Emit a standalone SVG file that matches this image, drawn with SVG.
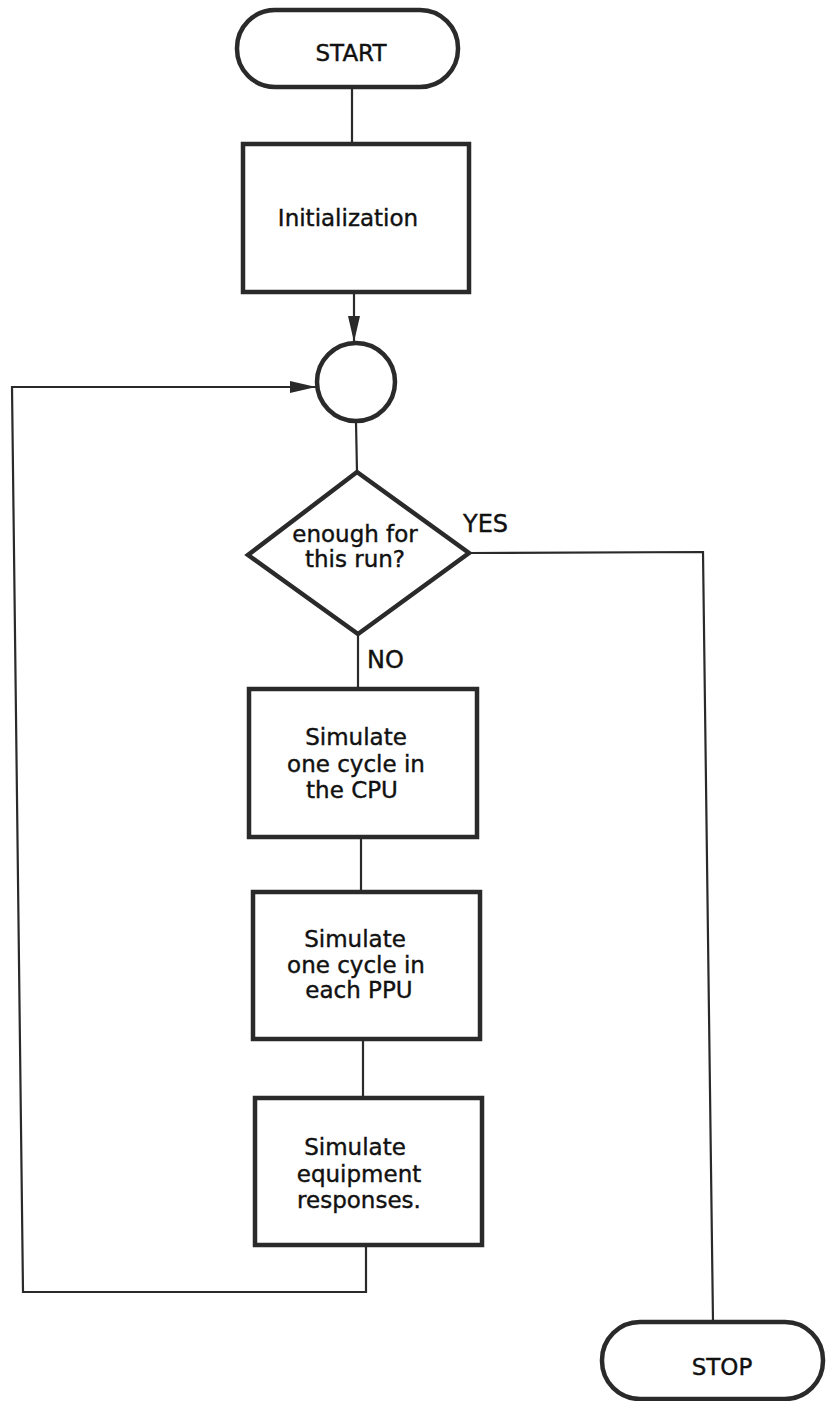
<svg xmlns="http://www.w3.org/2000/svg" width="826" height="1401" viewBox="0 0 826 1401">
<style>
.shape{fill:#fff;stroke:#2a2a2a;stroke-width:4.5}
.line{fill:none;stroke:#2a2a2a;stroke-width:2.2}
.t{font-family:"DejaVu Sans",sans-serif;font-size:23px;fill:#111;stroke:#111;stroke-width:0.4;text-anchor:middle}
.l{font-family:"DejaVu Sans",sans-serif;font-size:24px;fill:#111;stroke:#111;stroke-width:0.4}
</style>
<defs>
<marker id="ah" markerWidth="26" markerHeight="12" refX="26" refY="6" orient="auto" markerUnits="userSpaceOnUse">
<path d="M0,0 L26,6 L0,12 Z" fill="#2a2a2a"/>
</marker>
</defs>
<rect width="826" height="1401" fill="#fff"/>
<g id="connectors">
<line class="line" x1="352" y1="87" x2="352" y2="144"/>
<line class="line" x1="354" y1="292" x2="354" y2="342" marker-end="url(#ah)"/>
<line class="line" x1="356" y1="422" x2="357" y2="472"/>
<line class="line" x1="358" y1="634" x2="358" y2="689"/>
<line class="line" x1="361" y1="837" x2="361" y2="892"/>
<line class="line" x1="363" y1="1039" x2="363" y2="1098"/>
<polyline class="line" points="366,1245 366,1292 23,1292 12,387 316,387" marker-end="url(#ah)"/>
<polyline class="line" points="469,553 703,552 713,1322"/>
</g>
<g id="start">
<rect class="shape" x="237" y="10" width="221" height="77" rx="38" ry="38"/>
<text class="t" x="351" y="61">START</text>
</g>
<g id="init">
<rect class="shape" x="243" y="144" width="226" height="148"/>
<text class="t" x="348" y="226">Initialization</text>
</g>
<g id="junction">
<circle class="shape" cx="356" cy="382" r="39"/>
</g>
<g id="decision">
<polygon class="shape" points="357,472 469,553 358,634 248,555"/>
<text class="t" x="355" y="542">enough for</text>
<text class="t" x="355" y="567">this run?</text>
<text class="l" x="463" y="532">YES</text>
<text class="l" x="367" y="668">NO</text>
</g>
<g id="cpu">
<rect class="shape" x="249" y="689" width="228" height="148"/>
<text class="t" x="356" y="745">Simulate</text>
<text class="t" x="356" y="772">one cycle in</text>
<text class="t" x="352" y="798">the CPU</text>
</g>
<g id="ppu">
<rect class="shape" x="253" y="892" width="227" height="147"/>
<text class="t" x="355" y="947">Simulate</text>
<text class="t" x="356" y="973">one cycle in</text>
<text class="t" x="359" y="998">each PPU</text>
</g>
<g id="equip">
<rect class="shape" x="255" y="1098" width="227" height="147"/>
<text class="t" x="355" y="1155">Simulate</text>
<text class="t" x="359" y="1182">equipment</text>
<text class="t" x="359" y="1208">responses.</text>
</g>
<g id="stop">
<rect class="shape" x="602" y="1322" width="221" height="77" rx="38" ry="38"/>
<text class="t" x="722" y="1375">STOP</text>
</g>
</svg>
